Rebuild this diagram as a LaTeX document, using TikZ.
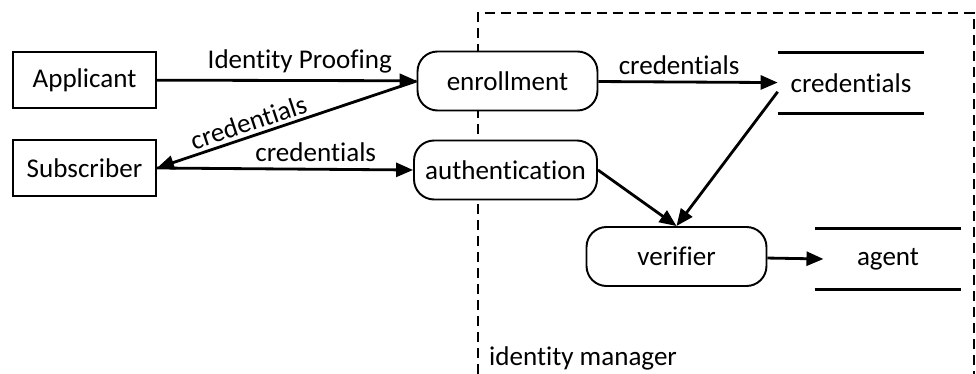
\documentclass[tikz,border=0pt]{standalone}
\usepackage{fontspec}
\setmainfont[Ligatures=NoCommon]{Carlito}
\usetikzlibrary{arrows.meta}
\tikzset{
  actor/.style={draw,fill=white,line width=1.1pt,minimum width=2.86cm,minimum height=1.12cm},
  proc/.style={draw,fill=white,line width=1.1pt,rounded corners=.4cm,minimum width=3.6cm,minimum height=1.18cm},
  store/.style={minimum width=2.92cm,minimum height=1.2cm},
  flow/.style={line width=1.6pt,->},
  >={Triangle[length=.34cm,width=.28cm]},
}
\begin{document}
\begin{tikzpicture}[x=.02cm,y=-.02cm,font=\fontsize{15.4}{18}\selectfont]
	\useasboundingbox (0,0) rectangle (976,374);
	% identity manager frame
	\draw[line width=1.4pt,dash pattern=on 5.7pt off 3.4pt] (478,374) -- (478,13) -- (974,13) -- (974,374);
	\node[anchor=west] (idm) at (483,358) {identity manager};
	
	\node[actor] (appl) at (84.5,80) {Applicant};
	\node[actor] (subscr) at (84.5,168) {Subscriber};
	\node[proc] (enroll) at (507.5,81) {enrollment};
	\node[proc,minimum width=3.66cm] (auth) at (505.5,170) {authentication};
	\node[proc] (verif) at (676.5,256.5) {verifier};
	\node[store] (cred) at (851,83) {credentials};
	\node[store] (agent) at (888,259) {agent};
	\draw[line width=1.6pt] (cred.north west) -- (cred.north east) (cred.south west) -- (cred.south east);
	\draw[line width=1.6pt] (agent.north west) -- (agent.north east) (agent.south west) -- (agent.south east);
	
	\draw[flow] (appl) -- node[above,pos=.55] {Identity Proofing} (enroll);
	\draw[flow,<-] (subscr.east) -- node[sloped,above,pos=.37,inner sep=2pt] {credentials} (enroll.west);
	\draw[flow] (subscr.east) -- node[above,pos=.62] {credentials} (auth.west);
	\draw[flow] (enroll) -- node[above,pos=.45] {credentials} (cred);
	\draw[flow] (auth.east) -- (verif.north);
	\draw[flow] ([yshift=-5]cred.west) -- (verif.north);
	\draw[flow] (verif) -- ([xshift=5]agent.west);
\end{tikzpicture}
\end{document}
